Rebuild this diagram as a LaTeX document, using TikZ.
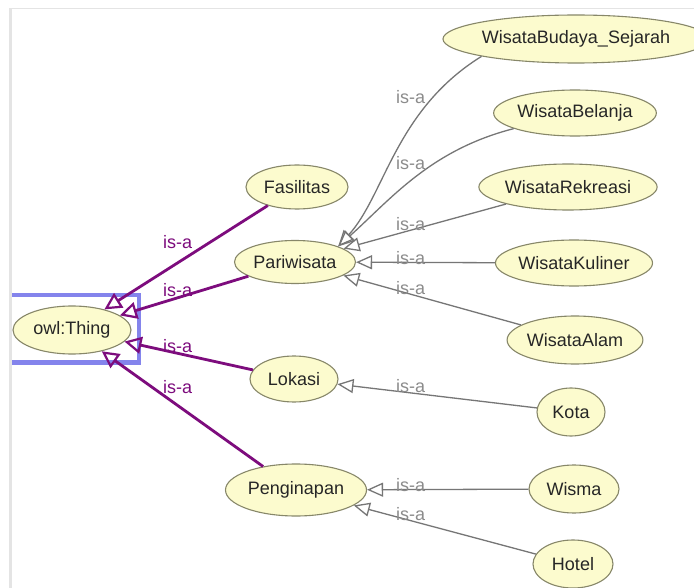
\documentclass[tikz,border=0pt]{standalone}
\usepackage{fontspec}
\setmainfont{Liberation Sans}
\usetikzlibrary{shapes.geometric,arrows.meta}
\definecolor{nodefill}{RGB}{252,251,206}
\definecolor{nodeline}{RGB}{135,135,105}
\definecolor{isapurple}{RGB}{125,12,125}
\definecolor{isagray}{RGB}{118,118,118}
\definecolor{labgray}{RGB}{140,140,140}
\definecolor{selblue}{RGB}{132,132,236}
\definecolor{panelframe}{RGB}{228,228,228}
\begin{document}
\begin{tikzpicture}[x=1pt,y=1pt,
  cls/.style={ellipse, draw=nodeline, line width=1.1pt, fill=nodefill, inner sep=0pt,
    font=\fontsize{18}{21}\selectfont, text=black!85},
  superedge/.style={draw=isapurple, line width=2.8pt,
    -{Triangle[open,length=17pt,width=17pt,line width=2.2pt]}},
  subedge/.style={draw=isagray, line width=1.3pt,
    -{Triangle[open,length=16pt,width=14pt,line width=1.3pt]}},
  plab/.style={text=isapurple, font=\fontsize{18}{21}\selectfont, anchor=west, inner sep=0pt},
  glab/.style={text=labgray, font=\fontsize{18}{21}\selectfont, anchor=west, inner sep=0pt}]
\useasboundingbox (0,0) rectangle (694,-588);
\fill[white] (0,0) rectangle (694,-588);
% panel frame
\fill[panelframe] (9,-8) rectangle (12,-588);
\draw[panelframe, line width=1pt] (9,-8.5) -- (694,-8.5);
% selection box
\draw[selblue, line width=4.5pt] (12,-295) -- (139,-295) -- (139,-362.5) -- (12,-362.5);
% nodes
\node[cls, minimum width=118pt, minimum height=48pt] (thing) at (72,-330) {owl:Thing};
\node[cls, minimum width=102pt, minimum height=44pt] (fas) at (297,-187) {Fasilitas};
\node[cls, minimum width=121pt, minimum height=43pt] (par) at (295,-262) {Pariwisata};
\node[cls, minimum width=88pt, minimum height=46pt] (lok) at (294,-379) {Lokasi};
\node[cls, minimum width=141pt, minimum height=52pt] (pen) at (296,-490) {Penginapan};
\node[cls, minimum width=234pt, minimum height=48pt] (wbs) at (576,-39) {WisataBudaya\_Sejarah};
\node[cls, minimum width=150pt, minimum height=46pt] (wbe) at (575,-113) {WisataBelanja};
\node[cls, minimum width=146pt, minimum height=46pt] (wre) at (568,-187) {WisataRekreasi};
\node[cls, minimum width=150pt, minimum height=46pt] (wku) at (574,-263) {WisataKuliner};
\node[cls, minimum width=126pt, minimum height=48pt] (wal) at (575,-340) {WisataAlam};
\node[cls, minimum width=68pt, minimum height=48pt] (kota) at (571,-412) {Kota};
\node[cls, minimum width=90pt, minimum height=48pt] (wis) at (574,-489) {Wisma};
\node[cls, minimum width=80pt, minimum height=48pt] (hot) at (573,-564) {Hotel};
% purple edges to owl:Thing
\draw[superedge] (fas) -- (thing);
\draw[superedge] (par) -- (thing);
\draw[superedge] (lok) -- (thing);
\draw[superedge] (pen) -- (thing);
% gray edges
\draw[subedge] (wbs.south west) .. controls (395,-110) and (385,-195) .. (par.north east);
\draw[subedge] (wbe) .. controls (430,-150) and (390,-200) .. (par.north east);
\draw[subedge] (wre) -- (par);
\draw[subedge] (wku) -- (par);
\draw[subedge] (wal) -- (par);
\draw[subedge] (kota) -- (lok);
\draw[subedge] (wis) -- (pen);
\draw[subedge] (hot) -- (pen);
% labels
\node[plab] (p1) at (163,-242) {is-a};
\node[plab] (p2) at (163,-290) {is-a};
\node[plab] (p3) at (163,-346) {is-a};
\node[plab] (p4) at (163,-387) {is-a};
\node[glab] (g1) at (396,-97) {is-a};
\node[glab] (g2) at (396,-163) {is-a};
\node[glab] (g3) at (396,-224) {is-a};
\node[glab] (g4) at (396,-258) {is-a};
\node[glab] (g5) at (396,-288) {is-a};
\node[glab] (g6) at (396,-386) {is-a};
\node[glab] (g7) at (396,-485) {is-a};
\node[glab] (g8) at (396,-514) {is-a};
\end{tikzpicture}
\end{document}
